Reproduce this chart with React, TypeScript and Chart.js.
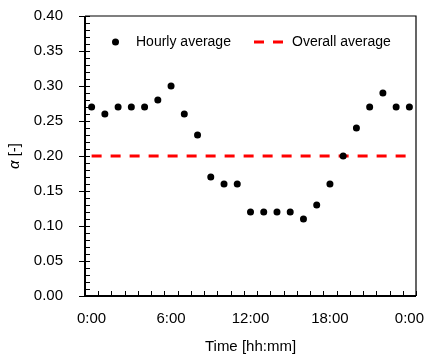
import React, { useEffect, useRef } from "react";
import { Chart, registerables } from "chart.js";

Chart.register(...registerables);

const TIME_LABELS = [
  "0:00", "1:00", "2:00", "3:00", "4:00", "5:00", "6:00", "7:00", "8:00", "9:00",
  "10:00", "11:00", "12:00", "13:00", "14:00", "15:00", "16:00", "17:00", "18:00",
  "19:00", "20:00", "21:00", "22:00", "23:00", "0:00",
];
const HOURLY_AVERAGE = [
  0.27, 0.26, 0.27, 0.27, 0.27, 0.28, 0.30, 0.26, 0.23, 0.17, 0.16, 0.16, 0.12,
  0.12, 0.12, 0.12, 0.11, 0.13, 0.16, 0.20, 0.24, 0.27, 0.29, 0.27, 0.27,
];
const OVERALL_AVERAGE = [
  0.20, 0.20, 0.20, 0.20, 0.20, 0.20, 0.20, 0.20, 0.20, 0.20, 0.20, 0.20, 0.20,
  0.20, 0.20, 0.20, 0.20, 0.20, 0.20, 0.20, 0.20, 0.20, 0.20, 0.20, 0.20,
];
const SERIES_NAMES = ["Hourly average", "Overall average"];
const Y_TITLE_SYMBOL = "α";
const Y_TITLE_UNIT = " [-]";
const X_TITLE = "Time [hh:mm]";

const FONT = "'Liberation Sans', Arial, sans-serif";

const decorPlugin = {
  id: "decor",
  afterDraw(chart: any) {
    const { ctx, chartArea } = chart;
    const { left, right, top, bottom } = chartArea;
    const xs = chart.scales.x;
    const ys = chart.scales.y;
    ctx.save();
    ctx.strokeStyle = "#000";
    // frame top/right
    ctx.lineWidth = 1.2;
    ctx.beginPath();
    ctx.moveTo(left, top);
    ctx.lineTo(right, top);
    ctx.lineTo(right, bottom);
    ctx.stroke();
    // y ticks
    ctx.lineWidth = 1;
    for (let i = 0; i <= 40; i++) {
      const y = Math.round(ys.getPixelForValue(i / 100)) + 0.5;
      ctx.beginPath();
      if (i % 5 === 0) {
        ctx.moveTo(left - 6, y);
        ctx.lineTo(left + 5, y);
      } else {
        ctx.moveTo(left, y);
        ctx.lineTo(left + 5, y);
      }
      ctx.stroke();
    }
    // x ticks at category boundaries
    const w = xs.getPixelForValue(1) - xs.getPixelForValue(0);
    for (let k = 0; k <= TIME_LABELS.length; k++) {
      const x = Math.round(xs.getPixelForValue(k) - w / 2) + 0.5;
      ctx.beginPath();
      ctx.moveTo(x, bottom);
      ctx.lineTo(x, bottom - 5);
      ctx.stroke();
    }
    // axes left/bottom
    ctx.lineWidth = 2;
    ctx.beginPath();
    ctx.moveTo(left, top);
    ctx.lineTo(left, bottom);
    ctx.lineTo(right, bottom);
    ctx.stroke();

    // legend
    const ly = top + 26;
    ctx.fillStyle = "#000";
    ctx.beginPath();
    ctx.arc(left + 30.5, ly, 3.5, 0, Math.PI * 2);
    ctx.fill();
    ctx.font = `14px ${FONT}`;
    ctx.textBaseline = "middle";
    ctx.textAlign = "left";
    ctx.fillText(chart.data.datasets[0].label, left + 51, ly);
    ctx.strokeStyle = "#ff0000";
    ctx.lineWidth = 3;
    ctx.setLineDash([10, 9]);
    ctx.beginPath();
    ctx.moveTo(left + 169, ly);
    ctx.lineTo(left + 198, ly);
    ctx.stroke();
    ctx.setLineDash([]);
    ctx.fillText(chart.data.datasets[1].label, left + 207, ly);

    // x title
    ctx.font = `15px ${FONT}`;
    ctx.textAlign = "center";
    ctx.fillText(X_TITLE, (left + right) / 2, 347);

    // y title
    ctx.translate(15, (top + bottom) / 2);
    ctx.rotate(-Math.PI / 2);
    ctx.font = `italic 15px ${FONT}`;
    const w1 = ctx.measureText(Y_TITLE_SYMBOL).width;
    ctx.font = `15px ${FONT}`;
    const w2 = ctx.measureText(Y_TITLE_UNIT).width;
    const start = -(w1 + w2) / 2;
    ctx.textAlign = "left";
    ctx.font = `italic 15px ${FONT}`;
    ctx.fillText(Y_TITLE_SYMBOL, start, 0);
    ctx.font = `15px ${FONT}`;
    ctx.fillText(Y_TITLE_UNIT, start + w1, 0);
    ctx.restore();
  },
};

const zeroPad = (s: any) => {
  s.paddingTop = 0;
  s.paddingBottom = 0;
  s.paddingLeft = 0;
  s.paddingRight = 0;
};

export default function App() {
  const ref = useRef<HTMLCanvasElement | null>(null);
  useEffect(() => {
    if (!ref.current) return;
    const chart = new Chart(ref.current, {
      type: "line",
      data: {
        labels: TIME_LABELS,
        datasets: [
          {
            label: SERIES_NAMES[0],
            data: HOURLY_AVERAGE,
            showLine: false,
            pointRadius: 3.5,
            pointHoverRadius: 3.5,
            pointBackgroundColor: "#000",
            pointBorderColor: "#000",
            pointBorderWidth: 0,
            borderColor: "#000",
            backgroundColor: "#000",
          },
          {
            label: SERIES_NAMES[1],
            data: OVERALL_AVERAGE,
            borderColor: "#ff0000",
            borderWidth: 3,
            borderDash: [10, 9],
            borderCapStyle: "butt",
            pointRadius: 0,
            fill: false,
          },
        ],
      },
      options: {
        animation: false,
        responsive: false,
        layout: { padding: { left: 0, right: 9, top: 16, bottom: 0 } },
        plugins: { legend: { display: false }, tooltip: { enabled: false } },
        scales: {
          x: {
            type: "category",
            offset: true,
            grid: { display: false },
            border: { display: false },
            afterFit: (s: any) => { s.height = 63; zeroPad(s); },
            ticks: {
              autoSkip: false,
              maxRotation: 0,
              padding: 6,
              color: "#000",
              font: { family: FONT, size: 15 },
              callback: (_v: any, i: number) => (i % 6 === 0 ? TIME_LABELS[i] : ""),
            },
          },
          y: {
            min: 0,
            max: 0.4,
            grid: { display: false, drawTicks: false },
            border: { display: false },
            afterFit: (s: any) => { s.width = 85; zeroPad(s); },
            ticks: {
              stepSize: 0.05,
              padding: 22,
              color: "#000",
              font: { family: FONT, size: 15 },
              callback: (v: any) => Number(v).toFixed(2),
            },
          },
        },
      },
      plugins: [decorPlugin],
    });
    return () => chart.destroy();
  }, []);
  return (
    <div style={{ position: "fixed", left: 0, top: 0, width: 425, height: 359, background: "#fff" }}>
      <canvas ref={ref} width={425} height={359} style={{ display: "block" }} />
    </div>
  );
}
